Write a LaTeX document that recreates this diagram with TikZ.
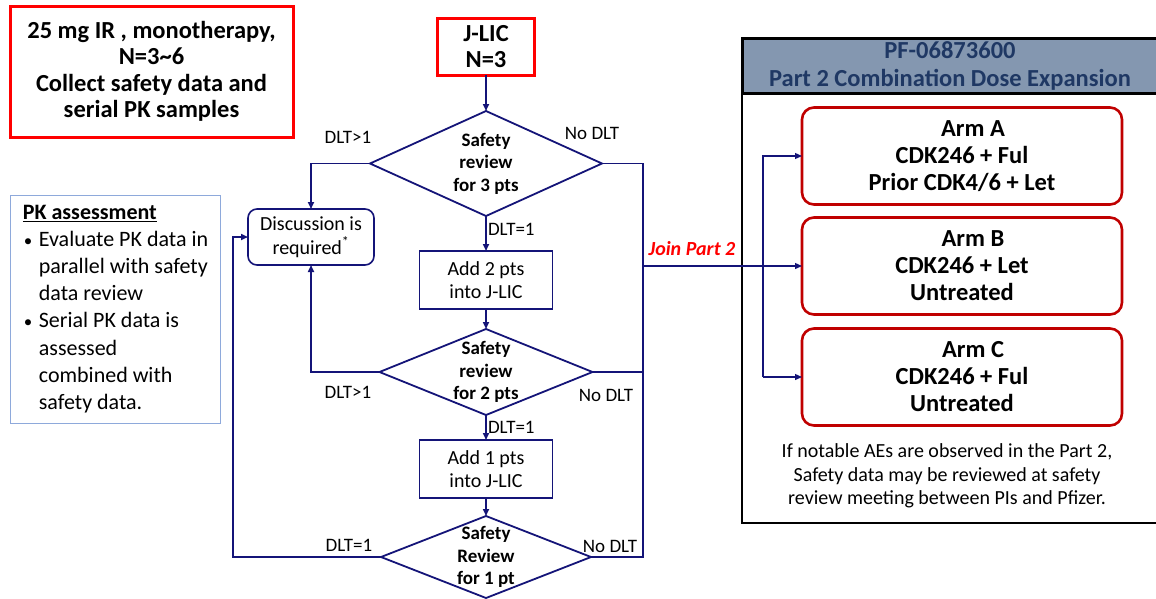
\documentclass[tikz,border=0pt]{standalone}
\usepackage{fontspec}
\setmainfont{Carlito}
\usetikzlibrary{arrows.meta, positioning, shapes.geometric}

\definecolor{flownavy}{RGB}{20,20,120}
\definecolor{armred}{RGB}{192,0,0}
\definecolor{hdrfill}{RGB}{132,151,176}
\definecolor{hdrtext}{RGB}{31,56,100}
\definecolor{pkblue}{RGB}{142,169,219}

\newcommand{\pkitem}{\makebox[16pt][l]{\hspace{1pt}{\fontsize{17}{17}\selectfont\textbullet}}}
\newcommand{\pkindent}{\hspace*{16pt}}

\begin{document}
\begin{tikzpicture}[x=1pt, y=-1pt, every node/.style={outer sep=0pt},
                redbox/.style={draw=red, line width=3pt, align=center, inner sep=0pt,
                               font=\fontsize{24.5}{26.5}\selectfont\bfseries},
                process/.style={draw=flownavy, line width=1.6pt, minimum width=133pt, minimum height=58pt,
                                align=center, inner sep=0pt, font=\fontsize{20}{23.5}\selectfont},
                decision/.style={diamond, draw=flownavy, line width=1.8pt, inner sep=0pt},
                dectext/.style={align=center, font=\fontsize{19}{22.5}\selectfont\bfseries},
                flow/.style={->, >={Triangle[length=7pt,width=6pt]}, draw=flownavy, line width=1.6pt},
                link/.style={draw=flownavy, line width=1.4pt},
                lbl/.style={font=\fontsize{19}{23.5}\selectfont, inner sep=2pt},
                armbox/.style={draw=armred, line width=2.6pt, rounded corners=12pt, minimum width=320pt,
                               minimum height=97pt, align=center, font=\fontsize{24.5}{27}\selectfont\bfseries}]

                \useasboundingbox[fill=white] (0,0) rectangle (1156,598);

                % Monotherapy box and PK notes
                \node[redbox, minimum width=283pt, minimum height=131pt] (mono) at (151.5,71.5)
                    {25 mg IR , monotherapy,\\N=3\textasciitilde 6\\Collect safety data and\\serial PK samples};
                \node[draw=pkblue, line width=1pt, minimum width=210pt, minimum height=228pt, align=left,
                      inner sep=0pt, font=\fontsize{22}{27.2}\selectfont] (pk) at (115.5,309)
                    {\underline{\textbf{PK assessment}}\\
                     \pkitem Evaluate PK data in\\
                     \pkindent parallel with safety\\
                     \pkindent data review\\
                     \pkitem Serial PK data is\\
                     \pkindent assessed\\
                     \pkindent combined with\\
                     \pkindent safety data.};

                % J-LIC chain
                \node[redbox, minimum width=97pt, minimum height=57pt] (jlic) at (486,46.5) {J-LIC\\N=3};
                \node[decision, minimum width=232pt, minimum height=105pt, below=36pt of jlic,
                      label={[dectext]center:Safety\\review\\for 3 pts}] (rev3) {};
                \node[process, below=35pt of rev3] (add2) {Add 2 pts\\into J-LIC};
                \node[decision, minimum width=213pt, minimum height=86pt, below=20pt of add2,
                      label={[dectext]center:Safety\\review\\for 2 pts}] (rev2) {};
                \node[process, below=25pt of rev2] (add1) {Add 1 pts\\into J-LIC};
                \node[decision, minimum width=210pt, minimum height=82pt, below=18pt of add1,
                      label={[dectext]center:Safety\\Review\\for 1 pt}] (rev1) {};
                \node[process, rounded corners=9pt, minimum width=126pt, minimum height=56pt] (disc) at (311,237)
                    {Discussion is\\required\textsuperscript{*}};

                \coordinate (back) at (233,0);
                \coordinate (bus) at (643,0);
                \coordinate (split) at (763,0);

                % Main arrows
                \draw[flow] (jlic) -- (rev3);
                \draw[flow] (rev3) -- (add2) node[lbl, pos=0.37, anchor=west] (eq3) {DLT=1};
                \draw[flow] (add2) -- (rev2);
                \draw[flow] (rev2) -- (add1) node[lbl, pos=0.48, anchor=west] (eq2) {DLT=1};
                \draw[flow] (add1) -- (rev1);

                % Back to discussion
                \draw[flow] (rev3.west) -| (disc.north);
                \draw[flow] (rev2.west) -| (disc.south);
                \draw[flow] (rev1.west) -- (rev1.west -| back) |- (disc.west);
                \node[lbl] (gt3) at (348,137) {DLT>1};
                \node[lbl] (gt2) at (348,392) {DLT>1};
                \node[lbl] (eq1) at (349,545) {DLT=1};

                % No DLT
                \draw[link] (rev3.east) -| (rev1.east -| bus) -- (rev1.east);
                \draw[link] (rev2.east) -- (rev2.east -| bus);
                \node[lbl] (no3) at (592,133) {No DLT};
                \node[lbl] (no2) at (606,395) {No DLT};
                \node[lbl] (no1) at (610,546) {No DLT};

                % Part 2 panel
                \node[draw, line width=2pt, minimum width=416pt, minimum height=430pt, anchor=north west] (panel) at (742,93) {};
                \node[draw, line width=3pt, fill=hdrfill, text=hdrtext, minimum width=416pt, minimum height=55pt,
                      anchor=north west, align=center, inner sep=0pt,
                      font=\fontsize{24.5}{28}\selectfont\bfseries] (hdr) at (742,38)
                    {PF-06873600\\Part 2 Combination Dose Expansion};
                \node[armbox] (armA) at (962,156) {\hspace*{22pt}Arm A\\CDK246 + Ful\\Prior CDK4/6 + Let};
                \node[armbox, below=13pt of armA] (armB) {\hspace*{22pt}Arm B\\CDK246 + Let\\Untreated};
                \node[armbox, below=14pt of armB] (armC) {\hspace*{22pt}Arm C\\CDK246 + Ful\\Untreated};
                \node[lbl, align=center, font=\fontsize{20}{23.5}\selectfont] (note) at (947,476)
                    {If notable AEs are observed in the Part 2,\\Safety data may be reviewed at safety\\review meeting between PIs and Pfizer.};

                % Join Part 2
                \draw[flow, line width=1.2pt] (armB.west -| bus) -- (armB.west);
                \draw[flow, line width=1.2pt] (armC.west -| split) |- (armA.west);
                \draw[flow, line width=1.2pt] (armC.west -| split) -- (armC.west);
                \node[font=\fontsize{20}{23}\selectfont\bfseries\itshape, text=red] (join) at (692,249) {Join Part 2};
            \end{tikzpicture}
\end{document}
